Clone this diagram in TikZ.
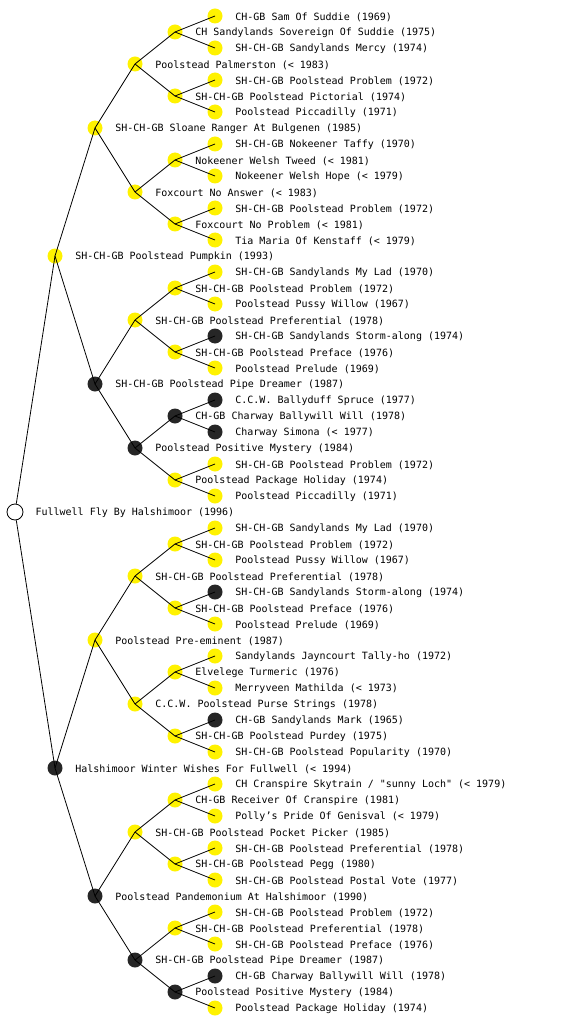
\documentclass[tikz,border=0pt]{standalone}
\usepackage{fontspec}
\newfontfamily\pedfont{DejaVu Sans Mono}
\usetikzlibrary{positioning}

\begin{document}
\begin{tikzpicture}[x=1pt,y=-1pt,
    dog/.style={circle,inner sep=0pt,minimum size=15pt},
    yel/.style={dog,fill=yellow},
    blk/.style={dog,fill=black!85},
    txt/.style={inner sep=0pt,yshift=-1pt,font=\pedfont\fontsize{10}{12}\selectfont},
    bond/.style={line width=0.8pt}]
\useasboundingbox (0,0) rectangle (560,1024);
% root
\node[dog,draw,line width=0.8pt,fill=white,minimum size=16pt,
      path picture={\fill (path picture bounding box.center) circle (0.7pt);}] (n1) at (15,512) {};
\node[txt,right=12pt of n1] (t1) {Fullwell Fly By Halshimoor (1996)};
% parents
\node[yel] (n2) at (55,256) {};
\node[txt,right=12.5pt of n2] (t2) {SH-CH-GB Poolstead Pumpkin (1993)};
\node[blk] (n3) at (55,768) {};
\node[txt,right=12.5pt of n3] (t3) {Halshimoor Winter Wishes For Fullwell (< 1994)};
% grandparents
\node[yel] (n4) at (95,128) {};
\node[txt,right=12.5pt of n4] (t4) {SH-CH-GB Sloane Ranger At Bulgenen (1985)};
\node[blk] (n5) at (95,384) {};
\node[txt,right=12.5pt of n5] (t5) {SH-CH-GB Poolstead Pipe Dreamer (1987)};
\node[yel] (n6) at (95,640) {};
\node[txt,right=12.5pt of n6] (t6) {Poolstead Pre-eminent (1987)};
\node[blk] (n7) at (95,896) {};
\node[txt,right=12.5pt of n7] (t7) {Poolstead Pandemonium At Halshimoor (1990)};
% third generation
\node[yel] (n8) at (135,64) {};
\node[txt,right=12.5pt of n8] (t8) {Poolstead Palmerston (< 1983)};
\node[yel] (n9) at (135,192) {};
\node[txt,right=12.5pt of n9] (t9) {Foxcourt No Answer (< 1983)};
\node[yel] (n10) at (135,320) {};
\node[txt,right=12.5pt of n10] (t10) {SH-CH-GB Poolstead Preferential (1978)};
\node[blk] (n11) at (135,448) {};
\node[txt,right=12.5pt of n11] (t11) {Poolstead Positive Mystery (1984)};
\node[yel] (n12) at (135,576) {};
\node[txt,right=12.5pt of n12] (t12) {SH-CH-GB Poolstead Preferential (1978)};
\node[yel] (n13) at (135,704) {};
\node[txt,right=12.5pt of n13] (t13) {C.C.W. Poolstead Purse Strings (1978)};
\node[yel] (n14) at (135,832) {};
\node[txt,right=12.5pt of n14] (t14) {SH-CH-GB Poolstead Pocket Picker (1985)};
\node[blk] (n15) at (135,960) {};
\node[txt,right=12.5pt of n15] (t15) {SH-CH-GB Poolstead Pipe Dreamer (1987)};
% fourth generation
\node[yel] (n16) at (175,32) {};
\node[txt,right=12.5pt of n16] (t16) {CH Sandylands Sovereign Of Suddie (1975)};
\node[yel] (n17) at (175,96) {};
\node[txt,right=12.5pt of n17] (t17) {SH-CH-GB Poolstead Pictorial (1974)};
\node[yel] (n18) at (175,160) {};
\node[txt,right=12.5pt of n18] (t18) {Nokeener Welsh Tweed (< 1981)};
\node[yel] (n19) at (175,224) {};
\node[txt,right=12.5pt of n19] (t19) {Foxcourt No Problem (< 1981)};
\node[yel] (n20) at (175,288) {};
\node[txt,right=12.5pt of n20] (t20) {SH-CH-GB Poolstead Problem (1972)};
\node[yel] (n21) at (175,352) {};
\node[txt,right=12.5pt of n21] (t21) {SH-CH-GB Poolstead Preface (1976)};
\node[blk] (n22) at (175,416) {};
\node[txt,right=12.5pt of n22] (t22) {CH-GB Charway Ballywill Will (1978)};
\node[yel] (n23) at (175,480) {};
\node[txt,right=12.5pt of n23] (t23) {Poolstead Package Holiday (1974)};
\node[yel] (n24) at (175,544) {};
\node[txt,right=12.5pt of n24] (t24) {SH-CH-GB Poolstead Problem (1972)};
\node[yel] (n25) at (175,608) {};
\node[txt,right=12.5pt of n25] (t25) {SH-CH-GB Poolstead Preface (1976)};
\node[yel] (n26) at (175,672) {};
\node[txt,right=12.5pt of n26] (t26) {Elvelege Turmeric (1976)};
\node[yel] (n27) at (175,736) {};
\node[txt,right=12.5pt of n27] (t27) {SH-CH-GB Poolstead Purdey (1975)};
\node[yel] (n28) at (175,800) {};
\node[txt,right=12.5pt of n28] (t28) {CH-GB Receiver Of Cranspire (1981)};
\node[yel] (n29) at (175,864) {};
\node[txt,right=12.5pt of n29] (t29) {SH-CH-GB Poolstead Pegg (1980)};
\node[yel] (n30) at (175,928) {};
\node[txt,right=12.5pt of n30] (t30) {SH-CH-GB Poolstead Preferential (1978)};
\node[blk] (n31) at (175,992) {};
\node[txt,right=12.5pt of n31] (t31) {Poolstead Positive Mystery (1984)};
% fifth generation
\node[yel] (n32) at (215,16) {};
\node[txt,right=12.5pt of n32] (t32) {CH-GB Sam Of Suddie (1969)};
\node[yel] (n33) at (215,48) {};
\node[txt,right=12.5pt of n33] (t33) {SH-CH-GB Sandylands Mercy (1974)};
\node[yel] (n34) at (215,80) {};
\node[txt,right=12.5pt of n34] (t34) {SH-CH-GB Poolstead Problem (1972)};
\node[yel] (n35) at (215,112) {};
\node[txt,right=12.5pt of n35] (t35) {Poolstead Piccadilly (1971)};
\node[yel] (n36) at (215,144) {};
\node[txt,right=12.5pt of n36] (t36) {SH-CH-GB Nokeener Taffy (1970)};
\node[yel] (n37) at (215,176) {};
\node[txt,right=12.5pt of n37] (t37) {Nokeener Welsh Hope (< 1979)};
\node[yel] (n38) at (215,208) {};
\node[txt,right=12.5pt of n38] (t38) {SH-CH-GB Poolstead Problem (1972)};
\node[yel] (n39) at (215,240) {};
\node[txt,right=12.5pt of n39] (t39) {Tia Maria Of Kenstaff (< 1979)};
\node[yel] (n40) at (215,272) {};
\node[txt,right=12.5pt of n40] (t40) {SH-CH-GB Sandylands My Lad (1970)};
\node[yel] (n41) at (215,304) {};
\node[txt,right=12.5pt of n41] (t41) {Poolstead Pussy Willow (1967)};
\node[blk] (n42) at (215,336) {};
\node[txt,right=12.5pt of n42] (t42) {SH-CH-GB Sandylands Storm-along (1974)};
\node[yel] (n43) at (215,368) {};
\node[txt,right=12.5pt of n43] (t43) {Poolstead Prelude (1969)};
\node[blk] (n44) at (215,400) {};
\node[txt,right=12.5pt of n44] (t44) {C.C.W. Ballyduff Spruce (1977)};
\node[blk] (n45) at (215,432) {};
\node[txt,right=12.5pt of n45] (t45) {Charway Simona (< 1977)};
\node[yel] (n46) at (215,464) {};
\node[txt,right=12.5pt of n46] (t46) {SH-CH-GB Poolstead Problem (1972)};
\node[yel] (n47) at (215,496) {};
\node[txt,right=12.5pt of n47] (t47) {Poolstead Piccadilly (1971)};
\node[yel] (n48) at (215,528) {};
\node[txt,right=12.5pt of n48] (t48) {SH-CH-GB Sandylands My Lad (1970)};
\node[yel] (n49) at (215,560) {};
\node[txt,right=12.5pt of n49] (t49) {Poolstead Pussy Willow (1967)};
\node[blk] (n50) at (215,592) {};
\node[txt,right=12.5pt of n50] (t50) {SH-CH-GB Sandylands Storm-along (1974)};
\node[yel] (n51) at (215,624) {};
\node[txt,right=12.5pt of n51] (t51) {Poolstead Prelude (1969)};
\node[yel] (n52) at (215,656) {};
\node[txt,right=12.5pt of n52] (t52) {Sandylands Jayncourt Tally-ho (1972)};
\node[yel] (n53) at (215,688) {};
\node[txt,right=12.5pt of n53] (t53) {Merryveen Mathilda (< 1973)};
\node[blk] (n54) at (215,720) {};
\node[txt,right=12.5pt of n54] (t54) {CH-GB Sandylands Mark (1965)};
\node[yel] (n55) at (215,752) {};
\node[txt,right=12.5pt of n55] (t55) {SH-CH-GB Poolstead Popularity (1970)};
\node[yel] (n56) at (215,784) {};
\node[txt,right=12.5pt of n56] (t56) {CH Cranspire Skytrain / "sunny Loch" (< 1979)};
\node[yel] (n57) at (215,816) {};
\node[txt,right=12.5pt of n57] (t57) {Polly’s Pride Of Genisval (< 1979)};
\node[yel] (n58) at (215,848) {};
\node[txt,right=12.5pt of n58] (t58) {SH-CH-GB Poolstead Preferential (1978)};
\node[yel] (n59) at (215,880) {};
\node[txt,right=12.5pt of n59] (t59) {SH-CH-GB Poolstead Postal Vote (1977)};
\node[yel] (n60) at (215,912) {};
\node[txt,right=12.5pt of n60] (t60) {SH-CH-GB Poolstead Problem (1972)};
\node[yel] (n61) at (215,944) {};
\node[txt,right=12.5pt of n61] (t61) {SH-CH-GB Poolstead Preface (1976)};
\node[blk] (n62) at (215,976) {};
\node[txt,right=12.5pt of n62] (t62) {CH-GB Charway Ballywill Will (1978)};
\node[yel] (n63) at (215,1008) {};
\node[txt,right=12.5pt of n63] (t63) {Poolstead Package Holiday (1974)};
% lines from each dog to its sire and dam
\draw [bond] (n1) -- (n2.center);
\draw [bond] (n1) -- (n3.center);
\foreach \i in {4,...,63}
    {
    \pgfmathtruncatemacro{\p}{\i/2}
    \draw [bond] (n\p.center) -- (n\i.center);
    }
\end{tikzpicture}
\end{document}
